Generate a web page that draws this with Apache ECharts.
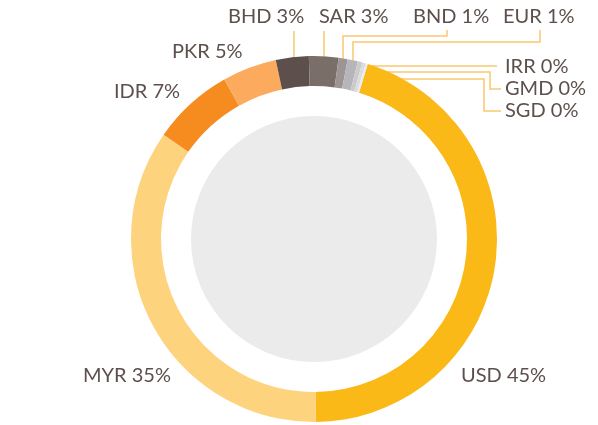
<!DOCTYPE html>
<html><head><meta charset="utf-8">
<script src="https://cdn.jsdelivr.net/npm/echarts@6/dist/echarts.min.js"></script>
<style>html,body{margin:0;padding:0;background:#fff}#c{width:598px;height:425px}</style>
</head><body><div id="c"></div>
<script>
const categories = ['USD','MYR','IDR','PKR','BHD','SAR','BND','EUR','IRR','GMD','SGD'];
const shares = [45.1, 34.8, 7.2, 4.8, 2.9, 2.6, 0.8, 0.9, 0.4, 0.3, 0.2];
const colors = ['#fbb918','#fdd37e','#f68b1f','#fbaa5e','#5d4f4b','#7a6e69','#9c9594','#b6b6ba','#cbcbcd','#dcdcde','#ececee'];

// label placement (layout only)
const place = {
  USD: {x: 461, y: 376},
  MYR: {x: 83,  y: 376},
  IDR: {x: 114, y: 92},
  PKR: {x: 172, y: 52},
  BHD: {x: 228, y: 17, line: [[294, 68], [294, 31]]},
  SAR: {x: 319, y: 17, line: [[324, 70], [324, 31]]},
  BND: {x: 413, y: 17, line: [[343, 72], [343, 36], [447, 36], [447, 30]]},
  EUR: {x: 503, y: 17, line: [[353, 72], [353, 42], [540, 42], [540, 30]]},
  IRR: {x: 505, y: 67, line: [[359, 66], [497, 66]]},
  GMD: {x: 505, y: 89, line: [[361, 72], [490, 72], [490, 89], [501, 89]]},
  SGD: {x: 505, y: 111, line: [[362, 79], [484, 79], [484, 111], [501, 111]]}
};

const chart = echarts.init(document.getElementById('c'), null, {renderer: 'canvas'});
chart.setOption({
  animation: false,
  series: [
    {
      type: 'pie',
      silent: true,
      center: [314, 239],
      radius: [0, 123],
      label: {show: false},
      labelLine: {show: false},
      itemStyle: {color: '#ebebeb'},
      data: [{value: 1, name: 'inner'}]
    },
    {
      type: 'pie',
      center: [314, 239],
      radius: [153, 183],
      startAngle: 72.9,
      clockwise: true,
      avoidLabelOverlap: false,
      data: categories.map((c, i) => ({
        name: c, value: shares[i],
        itemStyle: {color: colors[i]},
        labelLine: {show: !!place[c].line}
      })),
      label: {
        show: true,
        position: 'outside',
        color: '#5d504c',
        fontFamily: 'Lato',
        fontSize: 20,
        formatter: p => p.name + ' ' + Math.round(p.value) + '%'
      },
      labelLine: {
        lineStyle: {color: '#f9c870', width: 1.5}
      },
      labelLayout: function (params) {
        const c = categories[params.dataIndex];
        const pl = place[c];
        const out = {x: pl.x, y: pl.y, align: 'left', verticalAlign: 'middle'};
        if (pl.line) out.labelLinePoints = pl.line;
        return out;
      }
    }
  ]
});
</script></body></html>
